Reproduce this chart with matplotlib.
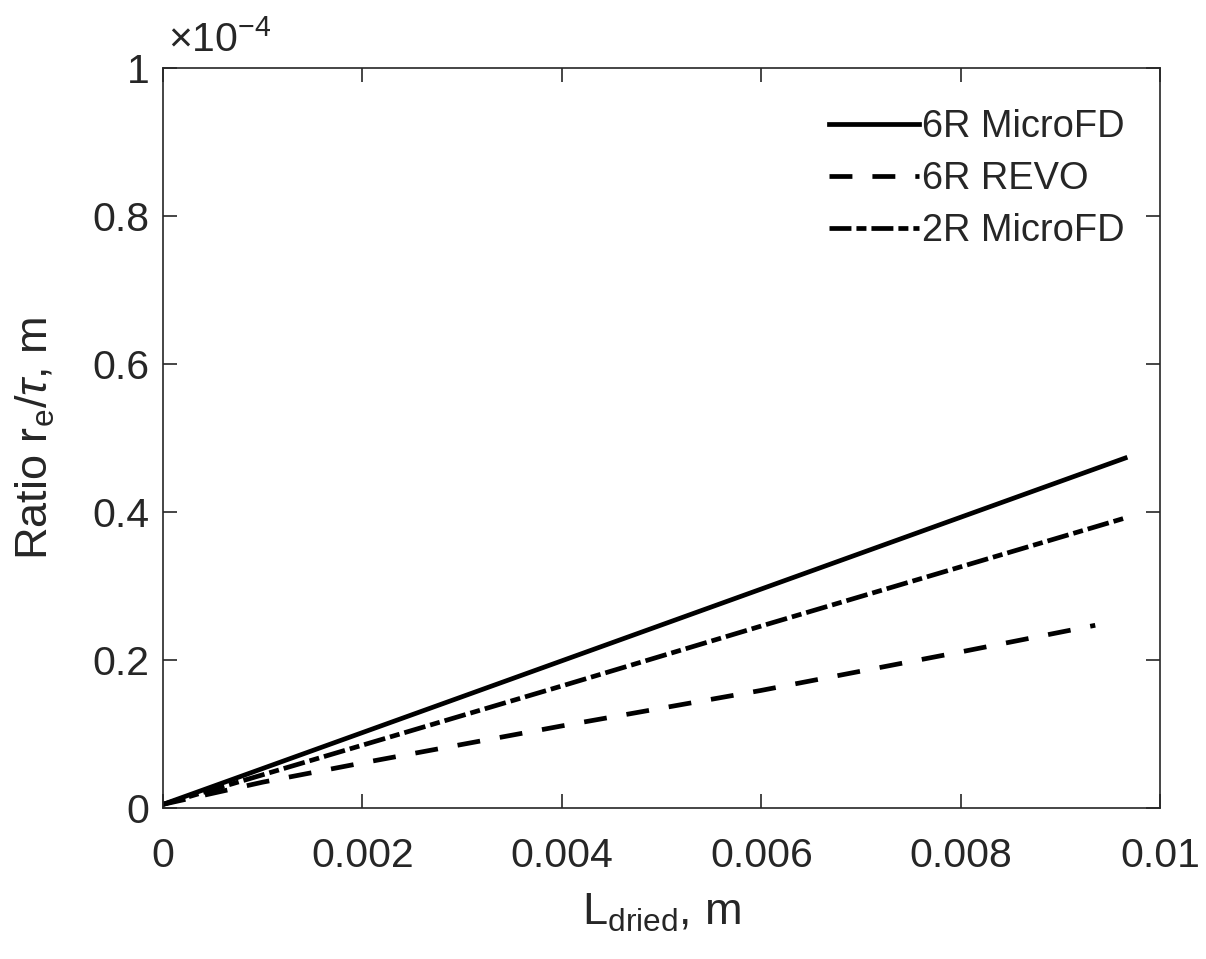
import numpy as np
import matplotlib
matplotlib.use('Agg')
import matplotlib.pyplot as plt
from matplotlib.ticker import FuncFormatter

plt.rcParams['font.family'] = ['Liberation Sans', 'DejaVu Sans']
plt.rcParams['mathtext.fontset'] = 'custom'
plt.rcParams['mathtext.rm'] = 'Liberation Sans'
plt.rcParams['mathtext.it'] = 'Liberation Sans:italic'
plt.rcParams['lines.scale_dashes'] = False

# dried layer thickness L_dried (m) and ratio r_e/tau (m), values in units of 1e-4
L_micro = [0.0, 0.002, 0.004, 0.006, 0.008, 0.00965]
r_6r_micro = [0.005, 0.102, 0.199, 0.296, 0.393, 0.473]
r_2r_micro = [0.005, 0.085, 0.165, 0.246, 0.326, 0.392]

L_revo = [0.0, 0.001, 0.002, 0.004, 0.006, 0.008, 0.00935]
r_6r_revo = [0.005, 0.035, 0.061, 0.111, 0.159, 0.211, 0.247]

labels = ['6R MicroFD', '6R REVO', '2R MicroFD']

ink = '#262626'
fig = plt.figure(figsize=(12.06, 9.59), dpi=100)
ax = fig.add_axes([0.1352, 0.1574, 0.8267, 0.7716])

ax.plot(L_micro, np.array(r_6r_micro) * 1e-4, color='k', lw=3.4, ls='-', label=labels[0])
ax.plot(L_revo, np.array(r_6r_revo) * 1e-4, color='k', lw=3.4, dashes=(16.5, 14.4),
        dash_capstyle='butt', label=labels[1])
ax.plot(L_micro, np.array(r_2r_micro) * 1e-4, color='k', lw=3.4, dashes=(15.8, 3.6, 7.2, 3.6),
        dash_capstyle='butt', label=labels[2])

ax.set_xlim(0, 0.01)
ax.set_ylim(0, 1e-4)
ax.set_xticks(np.arange(0, 0.0101, 0.002))
ax.set_yticks(np.arange(0, 1.01e-4, 0.2e-4))
ax.xaxis.set_major_formatter(FuncFormatter(lambda v, p: f'{v:g}'))
ax.yaxis.set_major_formatter(FuncFormatter(lambda v, p: f'{round(v * 1e4, 6):g}'))

for s in ax.spines.values():
    s.set_color(ink)
    s.set_linewidth(1.2)
ax.tick_params(direction='in', length=10, width=1.2, top=True, right=True,
               colors=ink, labelsize=29.5)
ax.tick_params(axis='x', pad=21)
ax.tick_params(axis='y', pad=10)

ax.set_xlabel(r'L$_{\mathregular{dried}}$, m', fontsize=32.5, color=ink, labelpad=12)
ax.set_ylabel(r'Ratio r$_{\mathregular{e}}$/$\tau$, m', fontsize=32.5, color=ink, labelpad=25)

ax.text(0.005, 1.012, r'×10$^{\mathregular{-4}}$', transform=ax.transAxes,
        fontsize=29.5, color=ink, ha='left', va='bottom')

ax.legend(loc='upper right', bbox_to_anchor=(0.98, 0.965), frameon=False,
          fontsize=27.4, handlelength=2.37, handletextpad=0.08, labelspacing=0.42,
          borderaxespad=0.0, labelcolor=ink)

fig.savefig('out.png', dpi=100)
